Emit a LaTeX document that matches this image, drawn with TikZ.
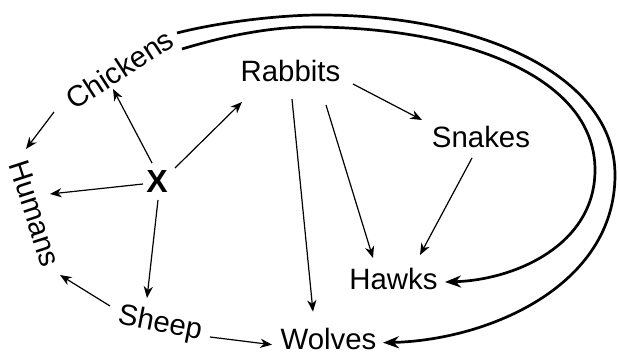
\documentclass[tikz,border=0pt]{standalone}
\usepackage{fontspec}
\setmainfont{Liberation Sans}
\usetikzlibrary{arrows.meta}
\newcommand\lblfont{\fontsize{14.7}{17.6}\selectfont}
\newcommand\xfont{\fontsize{16}{19}\selectfont\bfseries}
\begin{document}
\begin{tikzpicture}[x=0.5pt,y=0.5pt,
  lbl/.style={font=\lblfont, inner sep=0pt, anchor=base},
  thinarrow/.style={line width=0.6pt, -{Stealth[length=5.8pt,width=4.6pt,inset=1.8pt]}},
  thickarrow/.style={line width=1.35pt, -{Stealth[length=8pt,width=6pt,inset=2.6pt]}}]
\useasboundingbox (0,0) rectangle (618,354);
% labels
\node[lbl] (Rabbits) at (290.5,272) {Rabbits};
\node[lbl] (Snakes) at (481,206) {Snakes};
\node[lbl] (Hawks) at (393.5,64) {Hawks};
\node[lbl] (Wolves) at (328.5,4) {Wolves};
\node[inner sep=0pt, anchor=base, font=\xfont] (X) at (157,161) {X};
\node[lbl, rotate=33] (Chickens) at (125.5,276) {Chickens};
\node[lbl, rotate=-72] (Humans) at (25.5,137.2) {Humans};
\node[lbl, rotate=-11] (Sheep) at (158.5,22.5) {Sheep};
% thin arrows
\draw[thinarrow] ([shift={(-71.5,-34)}]Chickens.base) -- ([shift={(0.5,67.8)}]Humans.base);
\draw[thinarrow] ([shift={(-5,30)}]X.base) -- ([shift={(-12.5,-11)}]Chickens.base);
\draw[thinarrow] ([shift={(18,25)}]X.base) -- ([shift={(-48.5,-20)}]Rabbits.base);
\draw[thinarrow] ([shift={(-14,9)}]X.base) -- ([shift={(24.5,22.8)}]Humans.base);
\draw[thinarrow] ([shift={(1,-7)}]X.base) -- ([shift={(-11.5,33.5)}]Sheep.base);
\draw[thinarrow] ([shift={(-48.5,25.5)}]Sheep.base) -- ([shift={(34.5,-58.2)}]Humans.base);
\draw[thinarrow] ([shift={(51.5,-5.5)}]Sheep.base) -- ([shift={(-56.5,5.3)}]Wolves.base);
\draw[thinarrow] ([shift={(1.5,-17)}]Rabbits.base) -- ([shift={(-15.5,38.3)}]Wolves.base);
\draw[thinarrow] ([shift={(35.5,-23)}]Rabbits.base) -- ([shift={(-20.5,32)}]Hawks.base);
\draw[thinarrow] ([shift={(62.5,-2)}]Rabbits.base) -- ([shift={(-59,28)}]Snakes.base);
\draw[thinarrow] ([shift={(-9,-10)}]Snakes.base) -- ([shift={(26.5,35)}]Hawks.base);
% thick curved arrows
\draw[thickarrow] ([shift={(51.5,45)}]Chickens.base) .. controls (220,332) and (280,339) .. (320,339)
  .. controls (480,339) and (615,279) .. (615,179)
  .. controls (615,69) and (490,14) .. ([shift={(54.5,7.3)}]Wolves.base);
\draw[thickarrow] ([shift={(56.5,29)}]Chickens.base) .. controls (225,318) and (270,327) .. (310,327)
  .. controls (460,327) and (595,279) .. (595,184)
  .. controls (595,109) and (515,74) .. ([shift={(51.5,8)}]Hawks.base);
\end{tikzpicture}
\end{document}
